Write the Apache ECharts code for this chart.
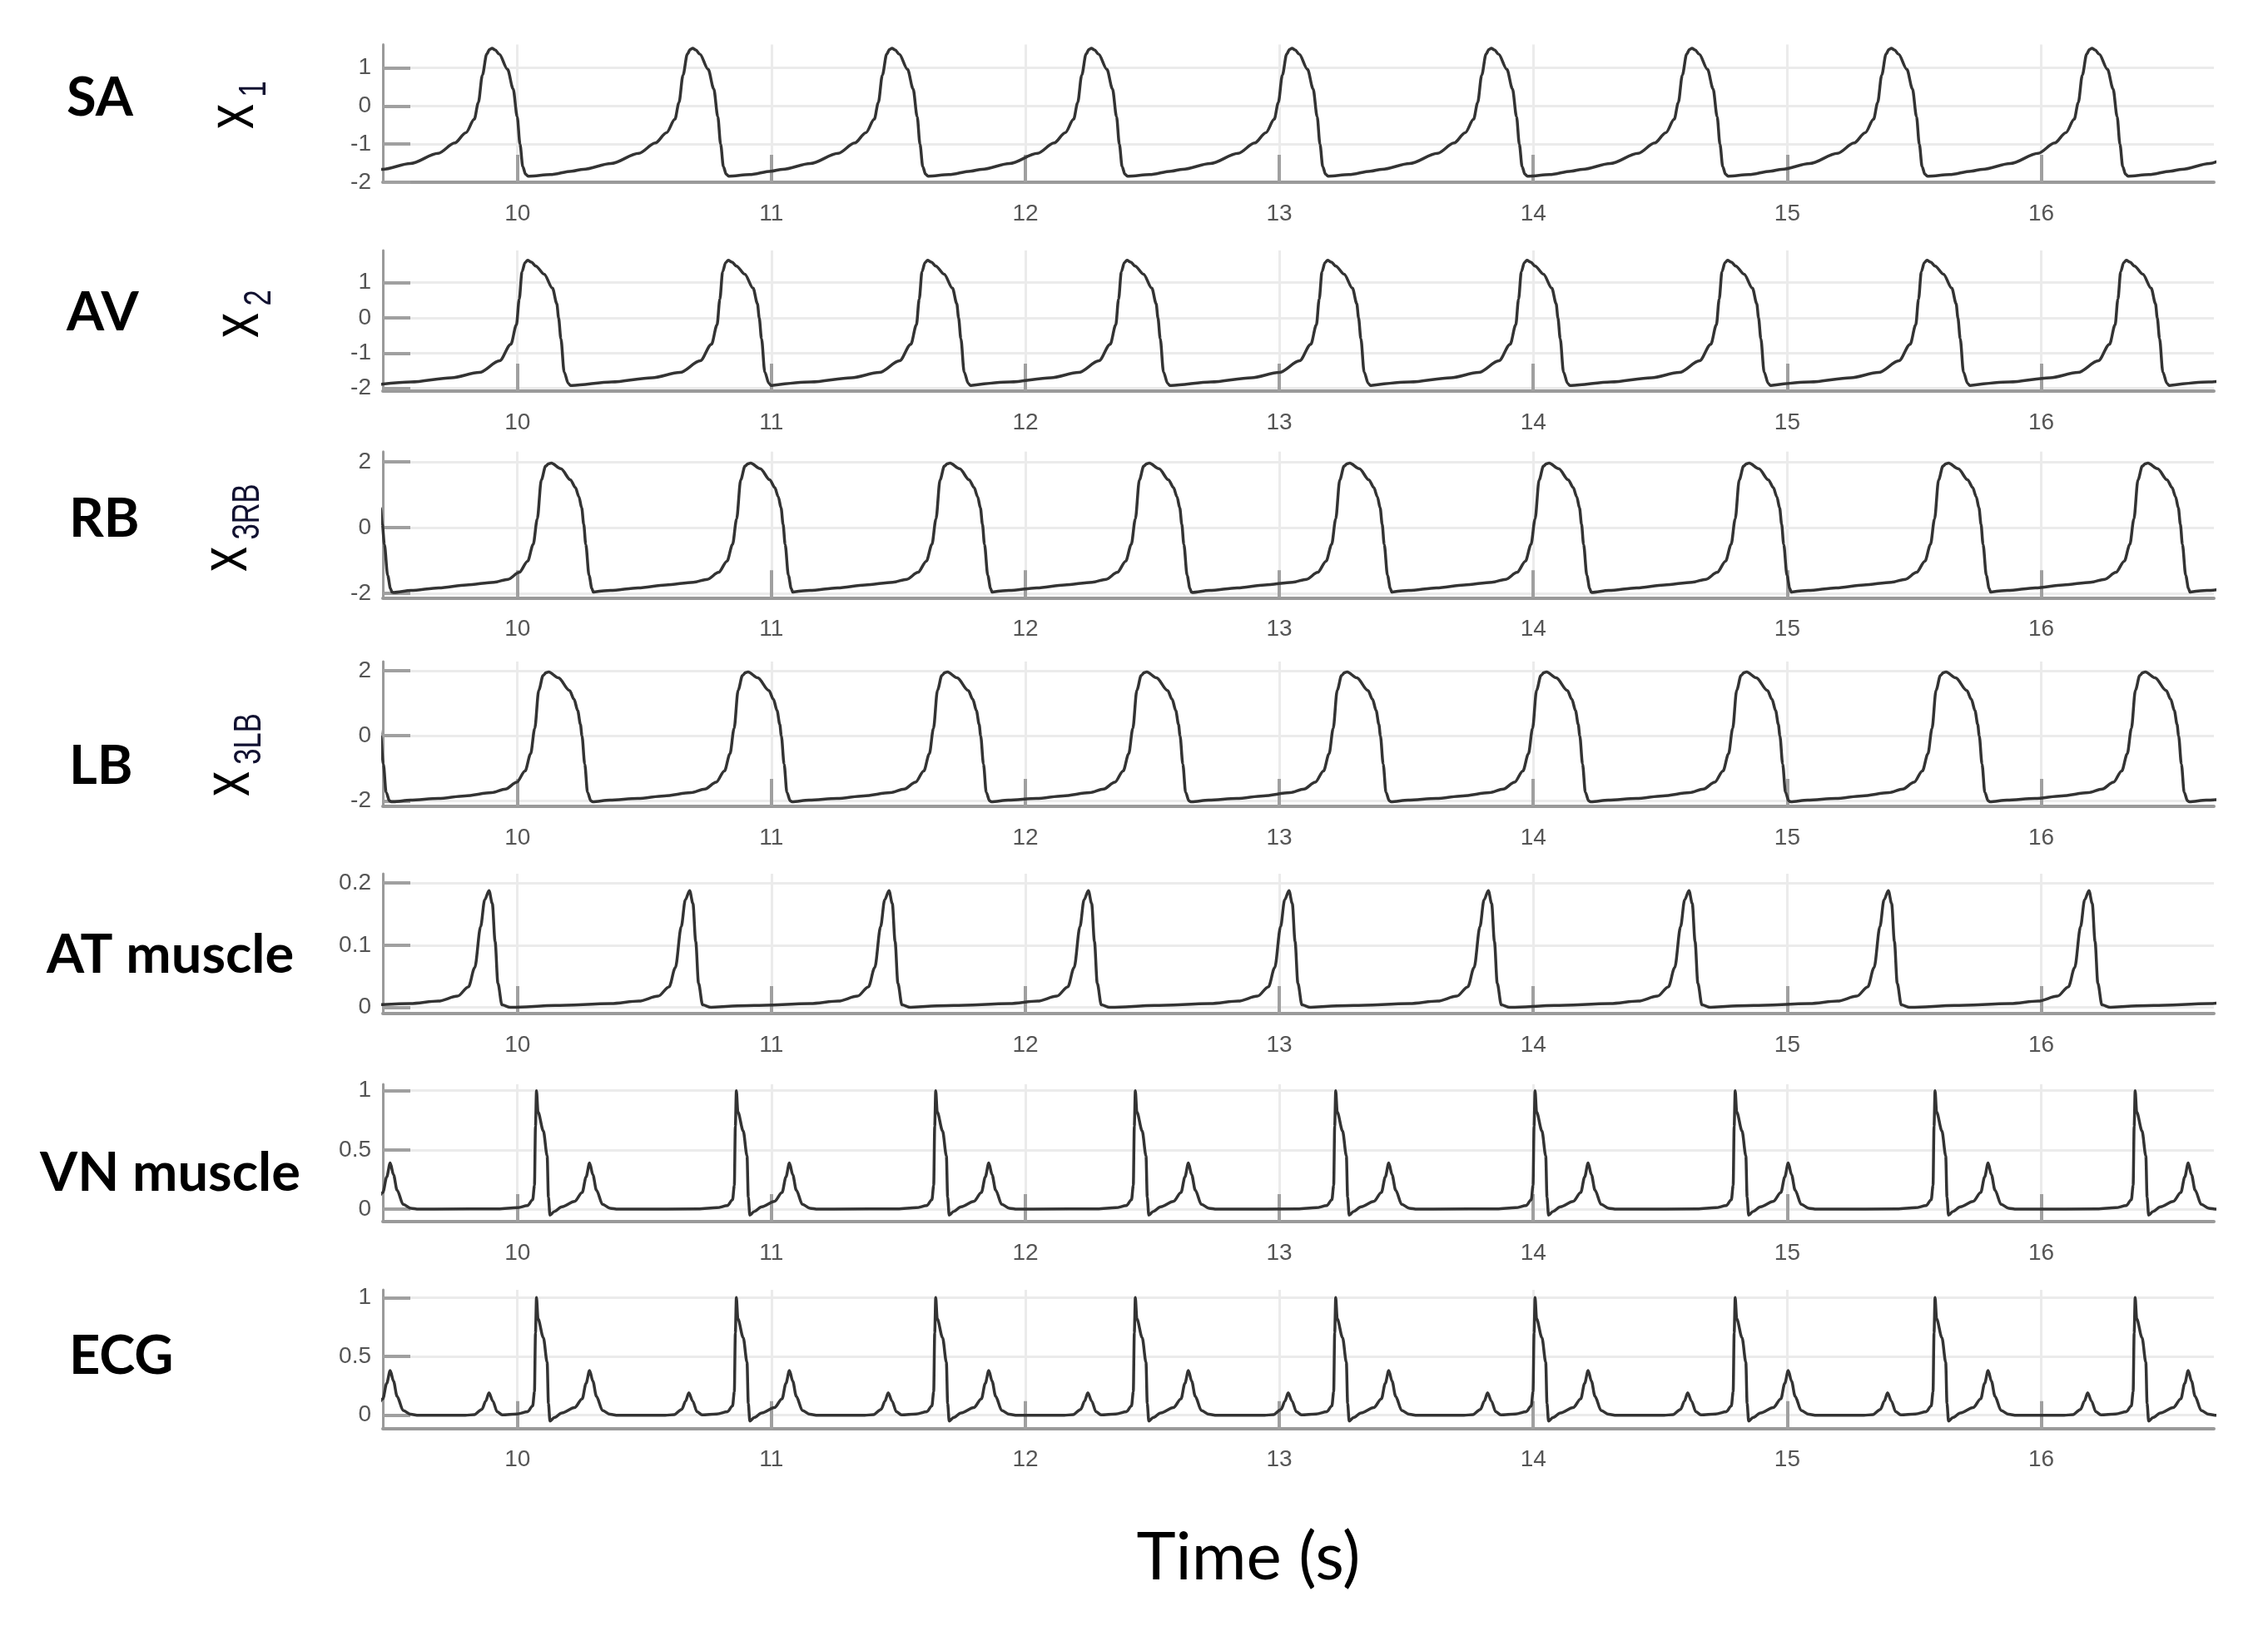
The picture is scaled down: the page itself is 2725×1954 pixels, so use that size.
<!DOCTYPE html>
<html>
<head>
<meta charset="utf-8">
<title>SA / AV / RB / LB / muscles / ECG</title>
<script src="https://cdn.jsdelivr.net/npm/echarts@6.0.0/dist/echarts.min.js"></script>
<style>
    html, body { margin: 0; padding: 0; background: #ffffff; }
    #main { width: 2725px; height: 1954px; }
</style>
</head>
<body>
<div id="main"></div>
<script>
    // time axis
    const timeMin = 9.47;
    const timeMax = 16.68;
    const timeTicks = [10, 11, 12, 13, 14, 15, 16];

    // one beat of every trace: [seconds from its peak, value]
    const beatSA = [[-0.643, -1.84], [-0.561, -1.80], [-0.476, -1.71], [-0.431, -1.66], [-0.322, -1.51], [-0.212, -1.24],
        [-0.147, -0.97], [-0.103, -0.70], [-0.07, -0.35], [-0.054, 0.09], [-0.038, 0.81], [-0.021, 1.36], [-0.01, 1.48],
        [0, 1.51], [0.012, 1.47], [0.028, 1.36], [0.061, 0.96], [0.083, 0.45], [0.099, -0.28], [0.11, -1.0],
        [0.121, -1.59], [0.132, -1.79], [0.142, -1.84]];
    const beatAV = [[-0.615, -1.92], [-0.46, -1.82], [-0.30, -1.70], [-0.19, -1.55], [-0.11, -1.22], [-0.066, -0.75],
        [-0.044, -0.20], [-0.033, 0.53], [-0.022, 1.31], [-0.01, 1.57], [0, 1.63], [0.015, 1.58], [0.032, 1.47],
        [0.065, 1.24], [0.098, 0.84], [0.115, 0.40], [0.122, 0.0], [0.131, -0.59], [0.144, -1.54], [0.16, -1.86], [0.169, -1.92]];
    const beatRB = [[-0.62, -1.97], [-0.553, -1.91], [-0.443, -1.83], [-0.334, -1.74], [-0.225, -1.66], [-0.17, -1.57],
        [-0.126, -1.36], [-0.093, -1.02], [-0.071, -0.51], [-0.055, 0.26], [-0.039, 1.45], [-0.022, 1.87], [-0.01, 1.94],
        [0, 1.96], [0.038, 1.79], [0.076, 1.45], [0.095, 1.22], [0.109, 0.94], [0.12, 0.60], [0.128, 0.1],
        [0.136, -0.51], [0.149, -1.45], [0.16, -1.85], [0.166, -1.96]];
    const beatLB = [[-0.612, -2.03], [-0.545, -1.98], [-0.435, -1.93], [-0.33, -1.85], [-0.225, -1.75], [-0.17, -1.64],
        [-0.126, -1.43], [-0.093, -1.08], [-0.071, -0.55], [-0.055, 0.22], [-0.039, 1.40], [-0.022, 1.85], [-0.01, 1.94],
        [0, 1.96], [0.038, 1.78], [0.082, 1.39], [0.1, 1.12], [0.114, 0.78], [0.125, 0.35], [0.131, 0.0],
        [0.142, -0.87], [0.153, -1.74], [0.166, -2.0], [0.173, -2.03]];
    const beatAT = [[-0.70, 0.0], [-0.53, 0.003], [-0.31, 0.006], [-0.20, 0.010], [-0.124, 0.018], [-0.081, 0.033],
        [-0.056, 0.064], [-0.033, 0.13], [-0.017, 0.173], [0, 0.188], [0.013, 0.167], [0.024, 0.106], [0.035, 0.039],
        [0.051, 0.004], [0.084, 0.0]];
    const beatVN = [[-0.40, 0.0], [-0.15, 0.002], [-0.077, 0.012], [-0.035, 0.03], [-0.015, 0.08], [-0.008, 0.2],
        [-0.004, 0.7], [0, 1.0], [0.006, 0.82], [0.027, 0.66], [0.042, 0.45], [0.047, 0.1], [0.053, -0.05], [0.07, -0.02],
        [0.10, 0.02], [0.15, 0.065], [0.18, 0.14], [0.195, 0.27], [0.209, 0.39], [0.222, 0.29], [0.236, 0.16],
        [0.26, 0.04], [0.29, 0.008], [0.32, 0.0], [0.384, 0.0]];
    const beatECG = [[-0.40, 0.0], [-0.28, 0.0], [-0.245, 0.005], [-0.215, 0.05], [-0.20, 0.12], [-0.187, 0.19],
        [-0.172, 0.12], [-0.155, 0.03], [-0.135, 0.003], [-0.077, 0.01], [-0.035, 0.03], [-0.015, 0.08], [-0.008, 0.2],
        [-0.004, 0.7], [0, 1.0], [0.006, 0.82], [0.027, 0.66], [0.042, 0.45], [0.047, 0.1], [0.053, -0.05], [0.07, -0.02],
        [0.10, 0.02], [0.15, 0.065], [0.18, 0.14], [0.195, 0.27], [0.209, 0.38], [0.222, 0.29], [0.236, 0.16],
        [0.26, 0.04], [0.29, 0.008], [0.32, 0.0], [0.384, 0.0]];

    // time of each peak (s)
    const peaksSA = [9.90, 10.69, 11.475, 12.26, 13.05, 13.835, 14.625, 15.41, 16.20, 16.985];
    const peaksAV = [9.255, 10.04, 10.83, 11.615, 12.40, 13.19, 13.975, 14.765, 15.55, 16.335, 17.12];
    const peaksRB = [9.34, 10.133, 10.918, 11.703, 12.488, 13.277, 14.062, 14.85, 15.635, 16.42, 17.205];
    const peaksLB = [9.33, 10.123, 10.908, 11.693, 12.478, 13.267, 14.052, 14.84, 15.625, 16.41, 17.195];
    const peaksAT = [9.888, 10.678, 11.463, 12.248, 13.038, 13.823, 14.613, 15.398, 16.188, 16.973];
    const peaksVN = [9.29, 10.075, 10.862, 11.647, 12.433, 13.222, 14.007, 14.795, 15.582, 16.37];
    const peaksECG = [9.29, 10.075, 10.862, 11.647, 12.433, 13.222, 14.007, 14.795, 15.582, 16.37];

    // value axes
    const yMin = [-2, -2.08, -2.13, -2.17, -0.01, -0.105, -0.113];
    const yMax = [1.61, 1.91, 2.31, 2.28, 0.215, 1.054, 1.066];
    const yTicks = [[-2, -1, 0, 1], [-2, -1, 0, 1], [-2, 0, 2], [-2, 0, 2], [0, 0.1, 0.2], [0, 0.5, 1], [0, 0.5, 1]];

    // panel names
    const panelNames = ['SA', 'AV', 'RB', 'LB', 'AT muscle', 'VN muscle', 'ECG'];
    const axisSymbol = ['1', '2', '3RB', '3LB'];

    const beats = [beatSA, beatAV, beatRB, beatLB, beatAT, beatVN, beatECG];
    const peaks = [peaksSA, peaksAV, peaksRB, peaksLB, peaksAT, peaksVN, peaksECG];

    // layout (px)
    const plotLeft = 460;
    const plotWidth = 2200;
    const panelTop = [53.5, 301, 542.7, 795, 1050, 1303, 1550];
    const panelBottom = [219, 470, 718.3, 969, 1218, 1468, 1716.7];
    const nameX = [80, 80, 83, 83, 56, 48, 83];
    const nameY = [118, 376, 624, 921, 1148, 1410, 1630];
    const symX = [[282, 306], [288, 312], [274, 298], [277, 300]];
    const symY = [[140, 107], [391, 358], [672, 615], [942, 888]];

    //把每一拍接起来
    function buildTrace(beat, times) {
        const pts = [];
        times.forEach(function (p) {
            beat.forEach(function (d) {
                pts.push([Math.round((p + d[0]) * 10000) / 10000, d[1]]);
            });
        });
        return pts;
    }

    const tickFont = 'Liberation Sans, Arial, Helvetica, sans-serif';
    const gridColor = '#ebebeb';
    const tickColor = '#a0a0a0';

    const chart = echarts.init(document.getElementById('main'));

    const graphics = [];
    panelNames.forEach(function (name, i) {
        graphics.push({
            type: 'text', x: nameX[i], y: nameY[i],
            style: {
                text: name, fill: '#000', fontFamily: 'Lato, sans-serif', fontWeight: 'bold',
                fontSize: 65, align: 'left', verticalAlign: 'middle'
            }
        });
    });
    axisSymbol.forEach(function (sub, i) {
        graphics.push({
            type: 'text', x: symX[i][0], y: symY[i][0], rotation: Math.PI / 2, scaleX: 0.75,
            style: {
                text: 'x', fill: '#000', fontFamily: tickFont, fontSize: 80,
                align: 'center', verticalAlign: 'middle'
            }
        });
        graphics.push({
            type: 'text', x: symX[i][1], y: symY[i][1], rotation: Math.PI / 2, scaleX: 0.75,
            style: {
                text: sub, fill: '#101030', fontFamily: tickFont, fontSize: 46,
                align: 'center', verticalAlign: 'middle'
            }
        });
    });
    graphics.push({
        type: 'text', x: 1500, y: 1872,
        style: {
            text: 'Time (s)', fill: '#000', fontFamily: 'Lato, sans-serif', fontSize: 80,
            align: 'center', verticalAlign: 'middle'
        }
    });

    chart.setOption({
        animation: false,
        backgroundColor: '#ffffff',
        grid: panelNames.map(function (n, i) {
            return {
                left: plotLeft, width: plotWidth,
                top: panelTop[i], height: panelBottom[i] - panelTop[i]
            };
        }),
        xAxis: panelNames.map(function (n, i) {
            return {
                type: 'value', gridIndex: i, min: timeMin, max: timeMax,
                axisLine: { show: true, onZero: false, lineStyle: { color: '#9a9a9a', width: 4 } },
                axisTick: {
                    show: true, inside: true, length: 33, customValues: timeTicks,
                    lineStyle: { color: tickColor, width: 4 }
                },
                axisLabel: {
                    customValues: timeTicks, margin: 24, fontSize: 28, color: '#555555', fontFamily: tickFont
                },
                splitLine: { show: true, lineStyle: { color: gridColor, width: 3 } }
            };
        }),
        yAxis: panelNames.map(function (n, i) {
            return {
                type: 'value', gridIndex: i, min: yMin[i], max: yMax[i],
                axisLine: { show: true, onZero: false, lineStyle: { color: '#9a9a9a', width: 3 } },
                axisTick: {
                    show: true, inside: true, length: 33, customValues: yTicks[i],
                    lineStyle: { color: tickColor, width: 4 }
                },
                axisLabel: {
                    customValues: yTicks[i], margin: 14, fontSize: 28, color: '#555555', fontFamily: tickFont,
                    formatter: function (v) { return String(v); }
                },
                splitLine: { show: true, lineStyle: { color: gridColor, width: 3 } }
            };
        }),
        series: panelNames.map(function (n, i) {
            return {
                name: n, type: 'line', xAxisIndex: i, yAxisIndex: i,
                data: buildTrace(beats[i], peaks[i]),
                showSymbol: false, smooth: 0.3, smoothMonotone: 'x', clip: true,
                lineStyle: { color: '#333333', width: 3.5 }
            };
        }),
        graphic: graphics
    });
</script>
</body>
</html>
